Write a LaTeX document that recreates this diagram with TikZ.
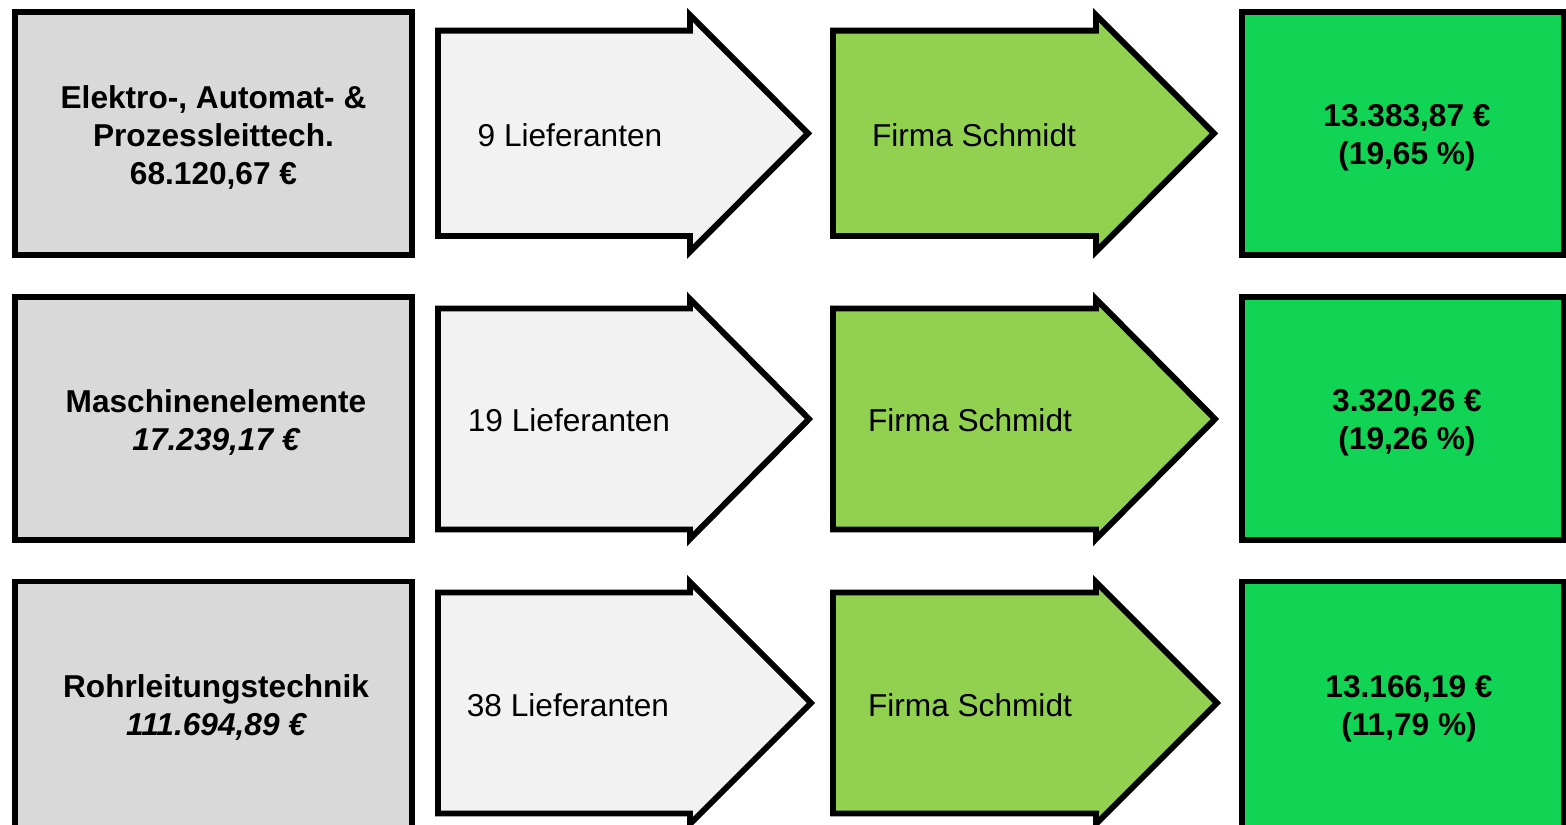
\documentclass[tikz,border=0pt]{standalone}
\usepackage{fontspec}
\setmainfont{Liberation Sans}
\usepackage{tikz}
\usetikzlibrary{calc, shapes, arrows}

\definecolor{boxgrau}{HTML}{D9D9D9}
\definecolor{pfeilgrau}{HTML}{F2F2F2}
\definecolor{firmagruen}{HTML}{92D050}
\definecolor{ergebnisgruen}{RGB}{18,212,84}

\begin{document}
\begin{tikzpicture}
\tikzstyle{bereich}=[draw=black,line width=1.7pt,fill=boxgrau,minimum width=3.97cm,minimum height=2.435cm,inner sep=0pt]
\tikzstyle{ergebnis}=[bereich,fill=ergebnisgruen,minimum width=3.225cm]
\tikzstyle{fett}=[align=center,inner sep=0pt,font=\fontsize{9}{10.8}\selectfont\bfseries]
\tikzstyle{pfeil}=[draw=black,line width=1.7pt,line join=miter]
\tikzstyle{pfeiltext}=[font=\fontsize{9}{10.8}\selectfont]
\useasboundingbox (0,0) rectangle (15.66,-8.25);
% Zeile 1
\node[bereich] (B_1) at (2.135,-1.334) {};
\node[fett] (BT_1) at (2.135,-1.374) {Elektro-, Automat- \&\\Prozessleittech.\\68.120,67 €};
\draw[pfeil,fill=pfeilgrau] (4.38,-0.307) -- (6.90,-0.307) -- (6.90,-0.15) -- (8.08,-1.333) -- (6.90,-2.516) -- (6.90,-2.36) -- (4.38,-2.36) -- cycle;
\node[pfeiltext] (L_1) at (5.70,-1.35) {9 Lieferanten};
\draw[pfeil,fill=firmagruen] (8.33,-0.307) -- (10.96,-0.307) -- (10.96,-0.15) -- (12.14,-1.333) -- (10.96,-2.516) -- (10.96,-2.36) -- (8.33,-2.36) -- cycle;
\node[pfeiltext] (F_1) at (9.74,-1.35) {Firma Schmidt};
\node[ergebnis] (E_1) at (14.03,-1.334) {};
\node[fett] (ET_1) at (14.07,-1.374) {13.383,87 €\\(19,65 \%)};
% Zeile 2
\node[bereich] (B_2) at (2.135,-4.183) {};
\node[fett] (BT_2) at (2.16,-4.223) {Maschinenelemente\\\itshape 17.239,17 €};
\draw[pfeil,fill=pfeilgrau] (4.38,-3.085) -- (6.90,-3.085) -- (6.90,-2.99) -- (8.09,-4.19) -- (6.90,-5.39) -- (6.90,-5.295) -- (4.38,-5.295) -- cycle;
\node[pfeiltext] (L_2) at (5.69,-4.20) {19 Lieferanten};
\draw[pfeil,fill=firmagruen] (8.33,-3.085) -- (10.96,-3.085) -- (10.96,-2.99) -- (12.15,-4.19) -- (10.96,-5.39) -- (10.96,-5.295) -- (8.33,-5.295) -- cycle;
\node[pfeiltext] (F_2) at (9.70,-4.20) {Firma Schmidt};
\node[ergebnis] (E_2) at (14.03,-4.183) {};
\node[fett] (ET_2) at (14.07,-4.223) {3.320,26 €\\(19,26 \%)};
% Zeile 3
\node[bereich,minimum height=2.47cm] (B_3) at (2.135,-7.05) {};
\node[fett] (BT_3) at (2.16,-7.07) {Rohrleitungstechnik\\\itshape 111.694,89 €};
\draw[pfeil,fill=pfeilgrau] (4.38,-5.925) -- (6.90,-5.925) -- (6.90,-5.82) -- (8.11,-7.03) -- (6.90,-8.24) -- (6.90,-8.135) -- (4.38,-8.135) -- cycle;
\node[pfeiltext] (L_3) at (5.68,-7.05) {38 Lieferanten};
\draw[pfeil,fill=firmagruen] (8.33,-5.925) -- (10.96,-5.925) -- (10.96,-5.82) -- (12.17,-7.03) -- (10.96,-8.24) -- (10.96,-8.135) -- (8.33,-8.135) -- cycle;
\node[pfeiltext] (F_3) at (9.70,-7.05) {Firma Schmidt};
\node[ergebnis,minimum height=2.47cm] (E_3) at (14.03,-7.05) {};
\node[fett] (ET_3) at (14.09,-7.09) {13.166,19 €\\(11,79 \%)};
\end{tikzpicture}
\end{document}
